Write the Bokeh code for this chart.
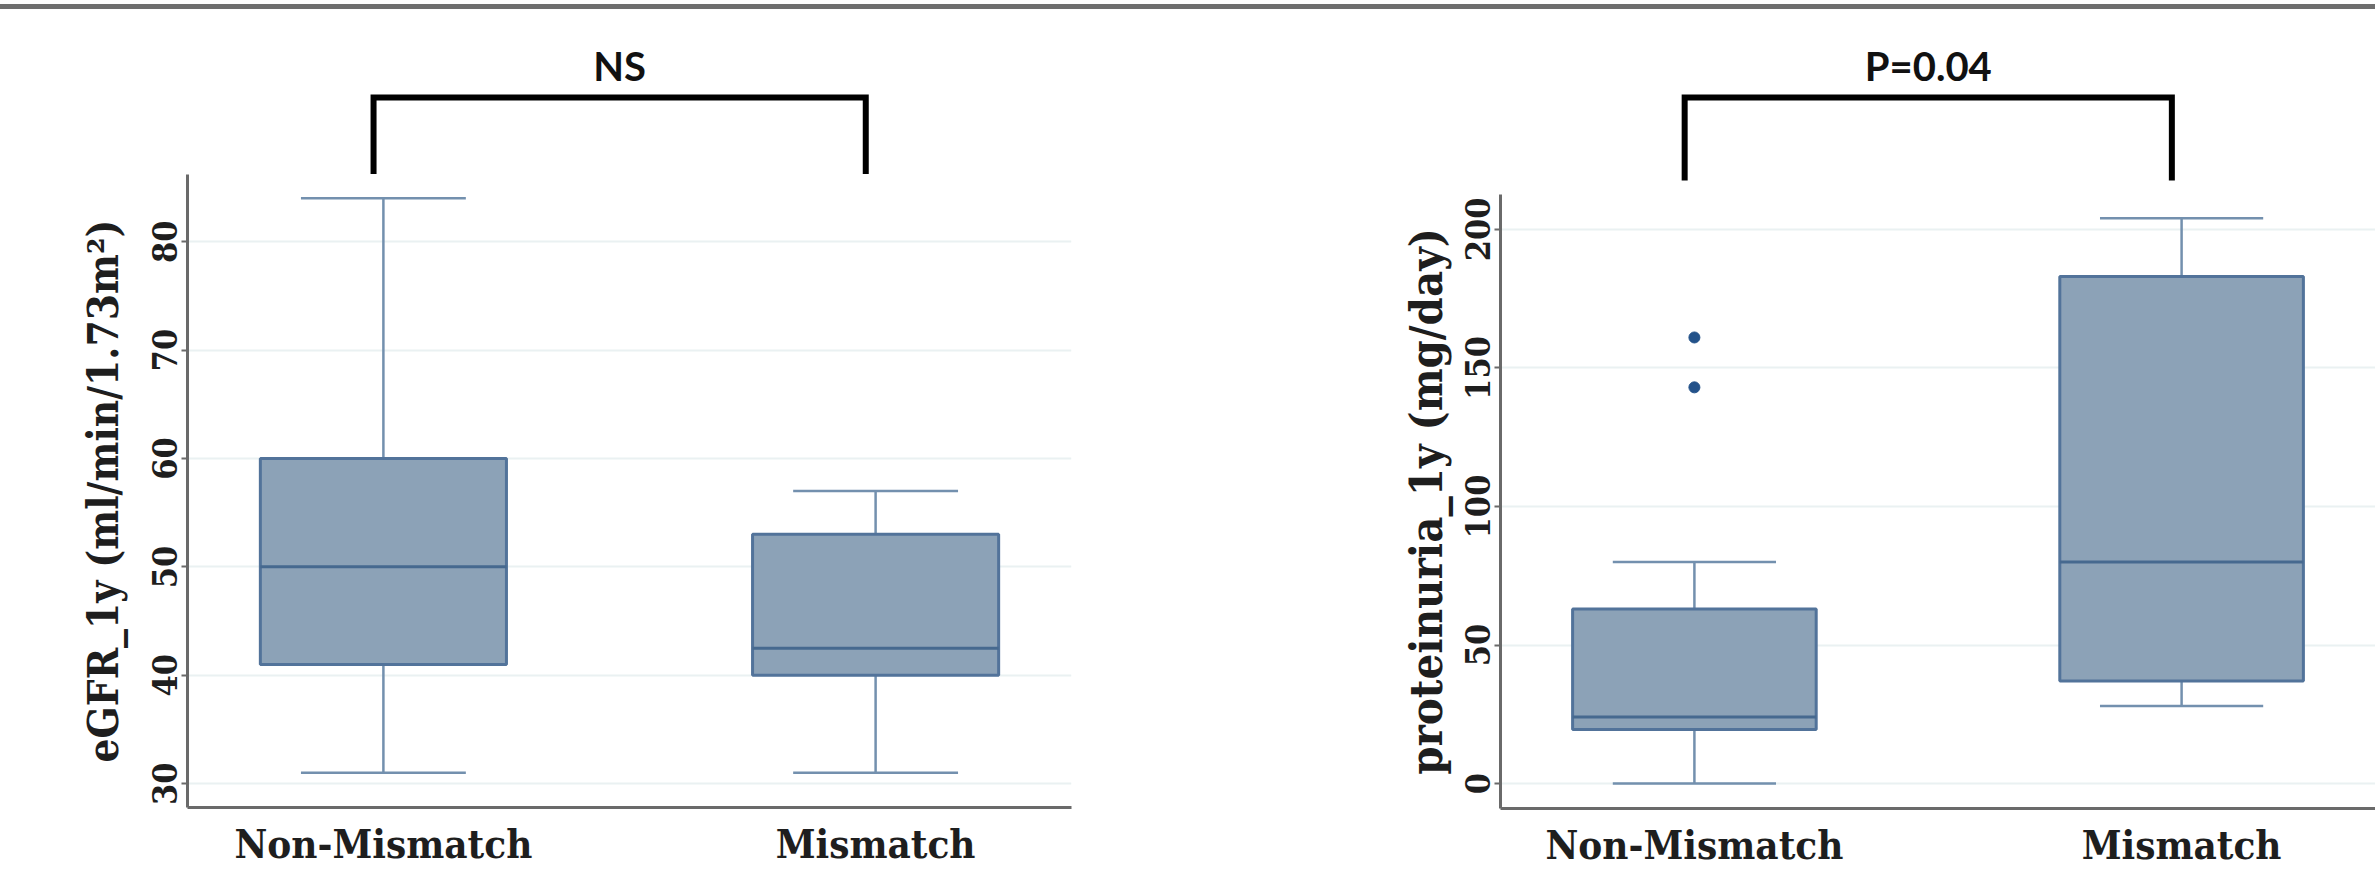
from bokeh.plotting import figure
from bokeh.layouts import row, column
from bokeh.models import Range1d, FixedTicker, ColumnDataSource
from bokeh.core.properties import value
from bokeh.embed import file_html
from bokeh.resources import INLINE

# ---------------- data ----------------
groups = ["Non-Mismatch", "Mismatch"]

egfr_lo = [31, 31]
egfr_q1 = [41, 40]
egfr_med = [50, 42.5]
egfr_q3 = [60, 53]
egfr_hi = [84, 57]
egfr_ticks = [30, 40, 50, 60, 70, 80]
egfr_label = "eGFR_1y (ml/min/1.73m\u00b2)"
egfr_test = "NS"

prot_lo = [0, 28]
prot_q1 = [19.5, 37]
prot_med = [24, 80]
prot_q3 = [63, 183]
prot_hi = [80, 204]
prot_out_group = ["Non-Mismatch", "Non-Mismatch"]
prot_out_val = [161, 143]
prot_ticks = [0, 50, 100, 150, 200]
prot_label = "proteinuria_1y (mg/day)"
prot_test = "P=0.04"

# ---------------- style ----------------
FILL = "#8CA2B7"
EDGE = "#52739A"
MED = "#46698F"
WHISK = "#7390AE"
OUT = "#23528A"
GRID = "#EAF1F2"
AXIS = "#6A6A6A"
RULE = "#6E6E6E"
SERIF = "DejaVu Serif Condensed"
SANS = "Lato"

XR = (-0.398, 1.398)      # category 0 and 1 sit at 0 and 1
BOX_W = 0.5
CAP_W = 0.335

# page geometry in pixels (page origin at top-left)
PAGE_W, PAGE_H = 2375, 871
SPLIT = 1290
L_FRAME = (187, 1071, 174, 807)     # left, right, top, bottom of left plot frame
R_FRAME = (1500, 2375, 194, 808)
BRACKET_Y = 97
TEST_BASE_Y = 65
RULE_BG = (f"linear-gradient(to bottom, #ffffff 0px, #ffffff 4px, {RULE} 4px, "
           f"{RULE} 9px, #ffffff 9px, #ffffff 100%)")


def box_panel(lo, q1, med, q3, hi, yr, ticks, label, label_size, fig_l, fig_r, frame,
              label_standoff, out_g=None, out_v=None):
    xs = list(range(len(groups)))
    src = ColumnDataSource(dict(
        x=xs, lo=lo, q1=q1, med=med, q3=q3, hi=hi,
        bl=[x - BOX_W / 2 for x in xs], br=[x + BOX_W / 2 for x in xs],
        cl=[x - CAP_W / 2 for x in xs], cr=[x + CAP_W / 2 for x in xs],
    ))
    fl, fr, ft, fb = frame
    p = figure(width=fig_r - fig_l, height=PAGE_H - ft, x_range=Range1d(*XR),
               y_range=Range1d(*yr), output_backend="svg", toolbar_location=None, title=None,
               min_border_left=fl - fig_l, min_border_right=fig_r - fr,
               min_border_top=0, min_border_bottom=PAGE_H - fb)
    p.outline_line_color = None
    p.background_fill_color = "white"
    p.border_fill_color = "white"
    p.xgrid.grid_line_color = None
    p.ygrid.grid_line_color = GRID
    p.ygrid.grid_line_width = 2

    # whiskers
    p.segment(x0="x", y0="q3", x1="x", y1="hi", source=src, line_color=WHISK, line_width=2.5)
    p.segment(x0="x", y0="lo", x1="x", y1="q1", source=src, line_color=WHISK, line_width=2.5)
    p.segment(x0="cl", y0="hi", x1="cr", y1="hi", source=src, line_color=WHISK, line_width=2.5)
    p.segment(x0="cl", y0="lo", x1="cr", y1="lo", source=src, line_color=WHISK, line_width=2.5)
    # boxes
    p.vbar(x="x", width=BOX_W, bottom="q1", top="q3", source=src,
           fill_color=FILL, line_color=EDGE, line_width=3)
    p.segment(x0="bl", y0="med", x1="br", y1="med", source=src, line_color=MED, line_width=3)
    if out_v:
        ox = [groups.index(g) for g in out_g]
        p.scatter(ox, out_v, size=11, fill_color=OUT, line_color=OUT)

    ya = p.yaxis[0]
    ya.ticker = FixedTicker(ticks=ticks)
    ya.major_label_orientation = "parallel"
    ya.major_label_text_font = SERIF
    ya.major_label_text_font_style = "bold"
    ya.major_label_text_font_size = "34px"
    ya.major_label_text_color = "#1E1E1E"
    ya.major_label_standoff = 4
    ya.axis_label = label
    ya.axis_label_text_font = SERIF
    ya.axis_label_text_font_style = "bold"
    ya.axis_label_text_font_size = label_size
    ya.axis_label_text_color = "#1E1E1E"
    ya.axis_label_standoff = label_standoff
    ya.axis_line_color = AXIS
    ya.axis_line_width = 3
    ya.major_tick_line_color = AXIS
    ya.major_tick_line_width = 2
    ya.major_tick_out = 6
    ya.major_tick_in = 0
    ya.minor_tick_line_color = None

    xa = p.xaxis[0]
    xa.ticker = FixedTicker(ticks=xs)
    xa.major_label_overrides = {i: g for i, g in enumerate(groups)}
    xa.major_label_text_font = SERIF
    xa.major_label_text_font_style = "bold"
    xa.major_label_text_font_size = "40px"
    xa.major_label_text_color = "#1E1E1E"
    xa.major_label_standoff = 12
    xa.axis_line_color = AXIS
    xa.axis_line_width = 3
    xa.major_tick_line_color = None
    xa.major_tick_out = 0
    xa.major_tick_in = 0
    xa.minor_tick_line_color = None
    return p


def top_panel(fig_l, fig_r, frame, test_text):
    fl, fr, ft, fb = frame
    # same horizontal frame as the box panel below it; vertical data = page pixel rows
    p = figure(width=fig_r - fig_l, height=ft, x_range=Range1d(*XR),
               y_range=Range1d(ft, 0), output_backend="svg", toolbar_location=None,
               title=None, min_border_left=fl - fig_l, min_border_right=fig_r - fr,
               min_border_top=0, min_border_bottom=0,
               styles={"background": RULE_BG})
    p.axis.visible = False
    p.grid.visible = False
    p.outline_line_color = None
    p.border_fill_color = None
    p.border_fill_alpha = 0
    p.background_fill_color = None
    p.background_fill_alpha = 0
    # significance bracket between the two groups
    a, b = 0 - 0.02, len(groups) - 1 - 0.02
    leg_end = min(ft, 180)
    p.line([a, a, b, b], [leg_end, BRACKET_Y, BRACKET_Y, leg_end], line_color="black",
           line_width=6, line_join="miter")
    p.text([(a + b) / 2], [TEST_BASE_Y], text=[test_text], text_font=value(SANS),
           text_font_style="bold", text_font_size="40px", text_align="center",
           text_baseline="alphabetic", text_color="#111111")
    return p


topL = top_panel(0, SPLIT, L_FRAME, egfr_test)
topR = top_panel(SPLIT, PAGE_W, R_FRAME, prot_test)

boxL = box_panel(egfr_lo, egfr_q1, egfr_med, egfr_q3, egfr_hi, (27.8, 86.2), egfr_ticks,
                 egfr_label, "42px", 0, SPLIT, L_FRAME, 22)
boxR = box_panel(prot_lo, prot_q1, prot_med, prot_q3, prot_hi, (-9, 212.6), prot_ticks,
                 prot_label, "45px", SPLIT, PAGE_W, R_FRAME, 10,
                 prot_out_group, prot_out_val)

layout = row(column(topL, boxL), column(topR, boxR))
open("out.html", "w").write(file_html(layout, INLINE))
